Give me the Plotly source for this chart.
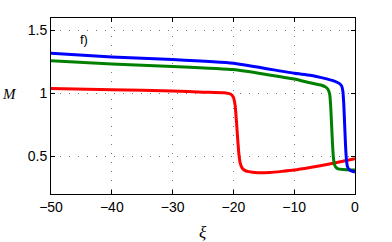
import plotly.graph_objects as go

xi_blue = [-50, -40, -30, -20, -10, -7.4, -5, -3.5, -2.6, -2.2, -2.0, -1.85, -1.7, -1.55, -1.4, -1.25, -1.05, -0.7, 0]
m_blue = [1.32, 1.29, 1.27, 1.24, 1.16, 1.145, 1.12, 1.10, 1.08, 1.06, 1.02, 0.92, 0.75, 0.58, 0.47, 0.42, 0.40, 0.385, 0.375]

xi_green = [-50, -40, -30, -20, -10, -7.4, -5.5, -4.8, -4.4, -4.15, -4.0, -3.85, -3.7, -3.55, -3.4, -3.2, -2.8, -2, 0]
m_green = [1.26, 1.235, 1.215, 1.19, 1.115, 1.085, 1.065, 1.05, 1.03, 0.99, 0.90, 0.75, 0.60, 0.49, 0.44, 0.415, 0.40, 0.395, 0.39]

xi_red = [-50, -40, -30, -25, -21.5, -20.5, -20.0, -19.7, -19.5, -19.3, -19.1, -18.9, -18.6, -18.2, -17.5, -16, -14, -12, -10, -7.4, -4, -2, 0]
m_red = [1.04, 1.03, 1.02, 1.01, 1.005, 0.995, 0.97, 0.90, 0.78, 0.64, 0.52, 0.45, 0.41, 0.39, 0.378, 0.37, 0.372, 0.38, 0.39, 0.41, 0.44, 0.46, 0.48]

x_ticks = [-50, -40, -30, -20, -10, 0]
x_labels = ["\u221250", "\u221240", "\u221230", "\u221220", "\u221210", "0"]
y_ticks = [0.5, 1, 1.5]
y_labels = ["0.5", "1", "1.5"]

fig = go.Figure()
for xs, ys, col in [(xi_red, m_red, "#ff0000"), (xi_green, m_green, "#008000"), (xi_blue, m_blue, "#0000ff")]:
    fig.add_trace(go.Scatter(x=xs, y=ys, mode="lines", line=dict(color=col, width=3, shape="spline", smoothing=0.4), showlegend=False, hoverinfo="skip"))

axis_common = dict(
    showline=True, linecolor="black", linewidth=1, mirror="ticks",
    ticks="inside", ticklen=4, tickcolor="black", tickwidth=1,
    showgrid=True, gridcolor="#777777", gridwidth=1, griddash="1px,8px",
    zeroline=False, automargin=False,
    tickfont=dict(family="Liberation Sans, Arial, sans-serif", size=14, color="black"),
)
fig.update_xaxes(range=[-50, 0], tickvals=x_ticks, ticktext=x_labels, **axis_common)
fig.update_yaxes(range=[0.2, 1.6], tickvals=y_ticks, ticktext=y_labels, **axis_common)

fig.add_annotation(x=-44.5, y=1.43, text="f)", showarrow=False, xref="x", yref="y",
                   font=dict(family="Liberation Sans, Arial, sans-serif", size=13, color="black"))
fig.add_annotation(x=-0.135, y=0.57, text="<i>M</i>", showarrow=False, xref="paper", yref="paper",
                   xanchor="center", yanchor="middle",
                   font=dict(family="Liberation Serif, serif", size=15, color="black"))
fig.add_annotation(x=0.5, y=-0.22, text="<i>ξ</i>", showarrow=False, xref="paper", yref="paper",
                   xanchor="center", yanchor="middle",
                   font=dict(family="Liberation Serif, serif", size=17, color="black"))

fig.update_layout(width=392, height=242, margin=dict(l=51, r=37, t=18, b=48),
                  paper_bgcolor="white", plot_bgcolor="white")
fig.write_html("out.html", config={"displayModeBar": False},
               post_script="document.body.style.margin='0';document.body.style.overflow='hidden';")
